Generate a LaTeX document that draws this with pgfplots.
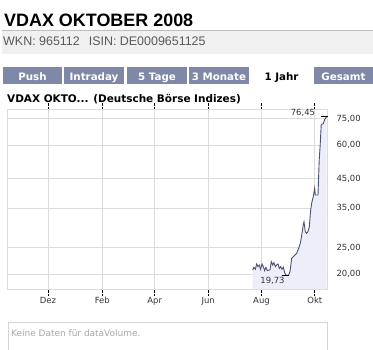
\documentclass[border=0pt]{standalone}
\usepackage{fontspec}
\setmainfont{DejaVu Sans}
\newfontfamily\arialfont{Liberation Sans}
\usepackage{pgfplots}
\pgfplotsset{compat=1.18}
\usepackage{pgfplotstable}

\definecolor{tabblue}{HTML}{7F88A6}
\definecolor{bandgrey}{HTML}{F0F0F0}
\definecolor{bandline}{HTML}{BEBEBE}
\definecolor{gridgrey}{HTML}{DCDCDC}
\definecolor{linecol}{HTML}{4A5176}
\definecolor{fillcol}{HTML}{EEEEFA}
\definecolor{labgrey}{HTML}{333333}
\definecolor{wkngrey}{HTML}{5A5A5A}
\definecolor{boxgrey}{HTML}{D4D4D4}
\definecolor{nodata}{HTML}{A8A8A8}

% day = days since 1 Dec 2007, val = index level
\pgfplotstableread{
day val
233.9 20.69
235.4 21.17
237.0 20.81
238.5 21.78
240.0 21.29
241.5 21.60
243.0 20.81
244.6 21.78
246.1 21.29
247.6 20.58
249.1 21.17
250.7 20.58
252.2 20.69
253.7 20.69
255.2 22.22
256.8 21.60
258.3 22.03
259.8 21.29
261.3 21.60
262.9 21.78
264.4 20.99
265.9 21.29
267.4 20.81
269.0 21.17
270.5 20.23
272.0 19.77
273.5 19.73
275.0 19.80
276.6 20.40
278.5 22.86
280.4 23.19
282.3 23.52
284.2 23.87
286.1 24.68
287.2 25.24
288.8 26.35
290.3 28.30
291.8 30.40
292.6 31.20
294.1 28.70
295.6 28.30
297.1 28.70
298.7 29.90
300.2 34.50
301.7 37.00
303.2 38.70
304.8 41.50
305.5 39.20
308.6 39.20
310.0 52.80
311.0 59.20
312.3 71.50
314.6 72.00
316.2 74.50
318.5 76.45
}\vdax

\begin{document}
\begin{tikzpicture}[x=1bp,y=1bp]
\fill[white] (0,0) rectangle (373,-350);
\useasboundingbox (0,0) rectangle (373,-350);

% page title
\node[anchor=base west, inner sep=0pt] at (4,-26)
  {\arialfont\bfseries\fontsize{18}{20}\selectfont VDAX OKTOBER 2008};

% identifier band
\fill[bandgrey] (2,-30) rectangle (373,-54);
\draw[bandline, line width=1.2bp] (2,-30.5) -- (373,-30.5);
\node[anchor=base west, inner sep=0pt, text=wkngrey] at (3,-45.5)
  {\arialfont\fontsize{12.5}{14}\selectfont WKN: 965112\hspace{9bp}ISIN: DE0009651125};

% period tabs
\foreach \a/\b/\t in {3/62/Push, 64/124/Intraday, 127/187/5 Tage, 189/249/3 Monate, 314/373/Gesamt}{
  \fill[tabblue] (\a,-67) rectangle (\b,-84);
  \node[anchor=base, inner sep=0pt, text=white] at ({(\a+\b)/2},-80)
    {\bfseries\fontsize{10.3}{12}\selectfont \t};
}
\node[anchor=base, inner sep=0pt, text=black] at (281.5,-80)
  {\bfseries\fontsize{10.3}{12}\selectfont 1 Jahr};

% chart heading
\node[anchor=base west, inner sep=0pt] at (7,-102)
  {\bfseries\fontsize{10.5}{12}\selectfont VDAX OKTO... (Deutsche Börse Indizes)};

\begin{axis}[
  at={(7bp,-289bp)}, anchor=south west,
  scale only axis, width=320bp, height=180bp,
  xmin=-46.9, xmax=318.9,
  ymode=log, ymin=17.6, ymax=81.6,
  log origin y=infty,
  axis line style={gridgrey, line width=1bp},
  xtick={0,62,122,183,244,305},
  xticklabels={Dez,Feb,Apr,Jun,Aug,Okt},
  ytick={20,25,35,45,60,75},
  yticklabels={{20,00},{25,00},{35,00},{45,00},{60,00},{75,00}},
  minor ytick={}, minor xtick={},
  yticklabel pos=right,
  grid=major,
  major grid style={gridgrey, line width=1bp},
  tick label style={font=\fontsize{8.5}{10}\selectfont, text=labgrey},
  xticklabel style={yshift=1.5bp},
  tick align=outside,
  major tick length=6bp,
  xtick style={black, densely dotted, line width=0.9bp},
  ytick style={draw=none},
  clip=false,
]
\addplot[fill=fillcol, draw=none] table[x=day,y=val]{\vdax} \closedcycle;
\addplot[linecol, line width=0.9bp] table[x=day,y=val]{\vdax};
% low and high markers
\addplot[black, line width=1bp] coordinates {(267,19.73) (276,19.73)};
\node[anchor=north, inner sep=1bp, text=labgrey, font=\fontsize{8.5}{10}\selectfont]
  at (axis cs:256.6,19.73) {19,73};
\addplot[black, line width=1bp] coordinates {(312.5,76.45) (320.5,76.45)};
\node[anchor=base east, inner sep=0pt, text=labgrey, font=\fontsize{8.5}{10}\selectfont, yshift=1.5bp]
  at (axis cs:305.5,76.45) {76,45};
\end{axis}

% volume panel
\draw[boxgrey, line width=1bp] (8,-352) -- (8,-322.5) -- (327,-322.5) -- (327,-352);
\node[anchor=base west, inner sep=0pt, text=nodata] at (11,-336)
  {\fontsize{9}{11}\selectfont Keine Daten für dataVolume.};
\end{tikzpicture}
\end{document}
